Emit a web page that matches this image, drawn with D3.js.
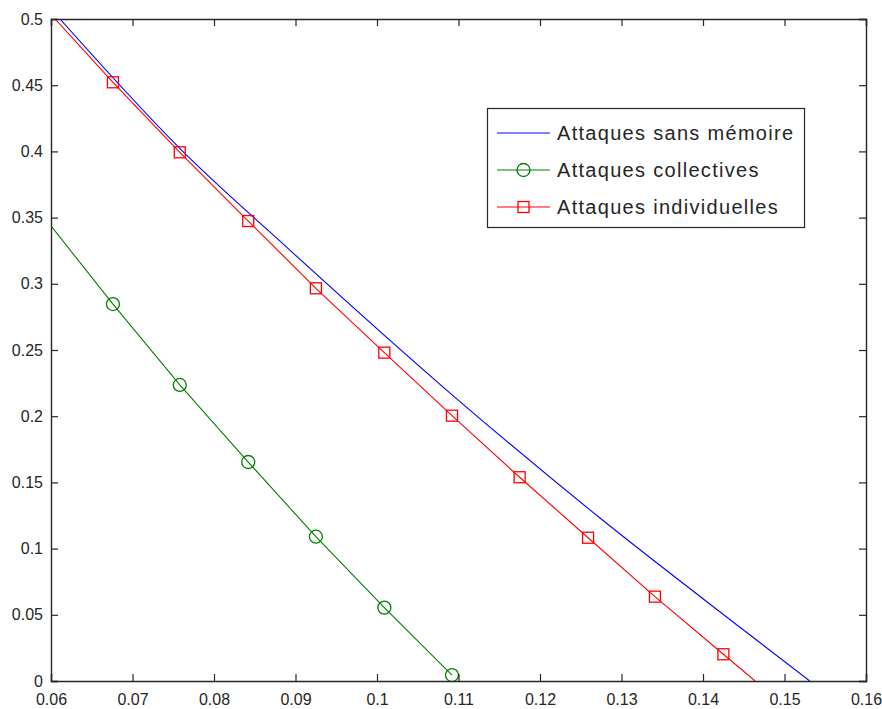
<!DOCTYPE html>
<html>
<head>
<meta charset="utf-8">
<script src="https://cdn.jsdelivr.net/npm/d3@7"></script>
<style>
	body { margin:0; background:#fff; }
	svg text { font-family:"Liberation Sans", Arial, sans-serif; fill:#262626; }
</style>
</head>
<body>
<svg id="plot"></svg>
<script>
/*	Axis ticks-----------------------------------------*/
const xTicks = [0.06, 0.07, 0.08, 0.09, 0.1, 0.11, 0.12, 0.13, 0.14, 0.15, 0.16];
const yTicks = [0, 0.05, 0.1, 0.15, 0.2, 0.25, 0.3, 0.35, 0.4, 0.45, 0.5];

/*	Series names for the legend------------------------*/
const seriesNames = ["Attaques sans mémoire", "Attaques collectives", "Attaques individuelles"];

/*	Attaques sans mémoire (blue, no marker)------------*/
const sansX = [0.0611, 0.0758, 0.0893, 0.1090, 0.1274, 0.1447, 0.1531];
const sansY = [0.5000, 0.4023, 0.3255, 0.2173, 0.1229, 0.0398, 0.0000];

/*	Attaques collectives (green, circles)--------------*/
const collX = [0.0600, 0.0676, 0.0758, 0.0842, 0.0925, 0.1009, 0.1092];
const collY = [0.3437, 0.2847, 0.2236, 0.1654, 0.1090, 0.0554, 0.0045];
const collMarkX = [0.0676, 0.0758, 0.0842, 0.0925, 0.1009, 0.1092];
const collMarkY = [0.2847, 0.2236, 0.1654, 0.1090, 0.0554, 0.0045];

/*	Attaques individuelles (red, squares)--------------*/
const indX = [0.0605, 0.0676, 0.0758, 0.0842, 0.0925, 0.1009, 0.1092, 0.1175, 0.1259, 0.1341, 0.1425, 0.1464];
const indY = [0.5000, 0.4522, 0.3993, 0.3474, 0.2966, 0.2480, 0.2004, 0.1539, 0.1082, 0.0637, 0.0202, 0.0000];
const indMarkX = [0.0676, 0.0758, 0.0842, 0.0925, 0.1009, 0.1092, 0.1175, 0.1259, 0.1341, 0.1425];
const indMarkY = [0.4522, 0.3993, 0.3474, 0.2966, 0.2480, 0.2004, 0.1539, 0.1082, 0.0637, 0.0202];

const colors = ["#0000ff", "#008000", "#ff0000"];

/*	Size of the figure and padding of the axes box-----*/
const width = 882, height = 709;
const padding = {left:51, right:16, top:19, bottom:28};

const svg = d3.select("#plot").attr("width", width).attr("height", height);

const x = d3.scaleLinear().domain([0.06, 0.16]).range([padding.left, width - padding.right]);
const y = d3.scaleLinear().domain([0, 0.5]).range([height - padding.bottom, padding.top]);

const zip = (xs, ys) => xs.map((v, i) => [v, ys[i]]);
const line = d3.line().x(d => x(d[0])).y(d => y(d[1]));
const smoothLine = d3.line().x(d => x(d[0])).y(d => y(d[1])).curve(d3.curveMonotoneX);

/*	Clip lines to the axes box-------------------------*/
svg.append("clipPath").attr("id", "clip")
	.append("rect")
	.attr("x", x(0.06)).attr("y", y(0.5))
	.attr("width", x(0.16) - x(0.06)).attr("height", y(0) - y(0.5));

const fmt = d => String(d);

/*	Axes: ticks inside on all four sides---------------*/
function addAxis(){
	const tick = 7;
	svg.append("g").attr("transform", "translate(0," + y(0) + ")")
		.call(d3.axisBottom(x).tickValues(xTicks).tickFormat(fmt).tickSize(-tick).tickPadding(13))
		.call(g => g.selectAll("text").attr("font-size", 16).attr("dy", "0.71em"));
	svg.append("g").attr("transform", "translate(0," + y(0.5) + ")")
		.call(d3.axisTop(x).tickValues(xTicks).tickFormat("").tickSize(-tick));
	svg.append("g").attr("transform", "translate(" + x(0.06) + ",0)")
		.call(d3.axisLeft(y).tickValues(yTicks).tickFormat(fmt).tickSize(-tick).tickPadding(8))
		.call(g => g.selectAll("text").attr("font-size", 16));
	svg.append("g").attr("transform", "translate(" + x(0.16) + ",0)")
		.call(d3.axisRight(y).tickValues(yTicks).tickFormat("").tickSize(-tick));
	svg.selectAll(".domain, .tick line").attr("stroke", "#262626").attr("stroke-width", 1.4);
	svg.selectAll(".tick line").attr("stroke-width", 1.2);
}

function addSquare(g, cx, cy, color){
	g.append("rect").attr("x", cx - 5.5).attr("y", cy - 5.5)
		.attr("width", 11).attr("height", 11)
		.attr("fill", "none").attr("stroke", color).attr("stroke-width", 1.3);
}

function addCircle(g, cx, cy, color){
	g.append("circle").attr("cx", cx).attr("cy", cy).attr("r", 6.5)
		.attr("fill", "none").attr("stroke", color).attr("stroke-width", 1.3);
}

/*	Series lines and markers---------------------------*/
function addSeries(){
	const g = svg.append("g").attr("clip-path", "url(#clip)");
	g.append("path").datum(zip(sansX, sansY)).attr("d", smoothLine)
		.attr("fill", "none").attr("stroke", colors[0]).attr("stroke-width", 1.1);
	g.append("path").datum(zip(collX, collY)).attr("d", line)
		.attr("fill", "none").attr("stroke", colors[1]).attr("stroke-width", 1.1);
	g.append("path").datum(zip(indX, indY)).attr("d", line)
		.attr("fill", "none").attr("stroke", colors[2]).attr("stroke-width", 1.1);

	const m = svg.append("g");
	zip(collMarkX, collMarkY).forEach(d => addCircle(m, x(d[0]), y(d[1]), colors[1]));
	zip(indMarkX, indMarkY).forEach(d => addSquare(m, x(d[0]), y(d[1]), colors[2]));
}

/*	Legend box in the upper right----------------------*/
function addLegend(){
	const box = {x:487.5, y:108.5, w:317, h:119};
	const g = svg.append("g");
	g.append("rect").attr("x", box.x).attr("y", box.y).attr("width", box.w).attr("height", box.h)
		.attr("fill", "#fff").attr("stroke", "#262626").attr("stroke-width", 1.2);
	seriesNames.forEach((name, i) => {
		const cy = 133 + i * 37;
		g.append("line").attr("x1", 497).attr("x2", 550).attr("y1", cy).attr("y2", cy)
			.attr("stroke", colors[i]).attr("stroke-width", 1.1);
		if(i == 1) addCircle(g, 523.5, cy, colors[i]);
		if(i == 2) addSquare(g, 523.5, cy, colors[i]);
		g.append("text").attr("x", 557).attr("y", cy).attr("dy", "0.36em")
			.attr("font-size", 20).attr("letter-spacing", 1.3).text(name);
	});
}

addSeries();
addAxis();
addLegend();
</script>
</body>
</html>
